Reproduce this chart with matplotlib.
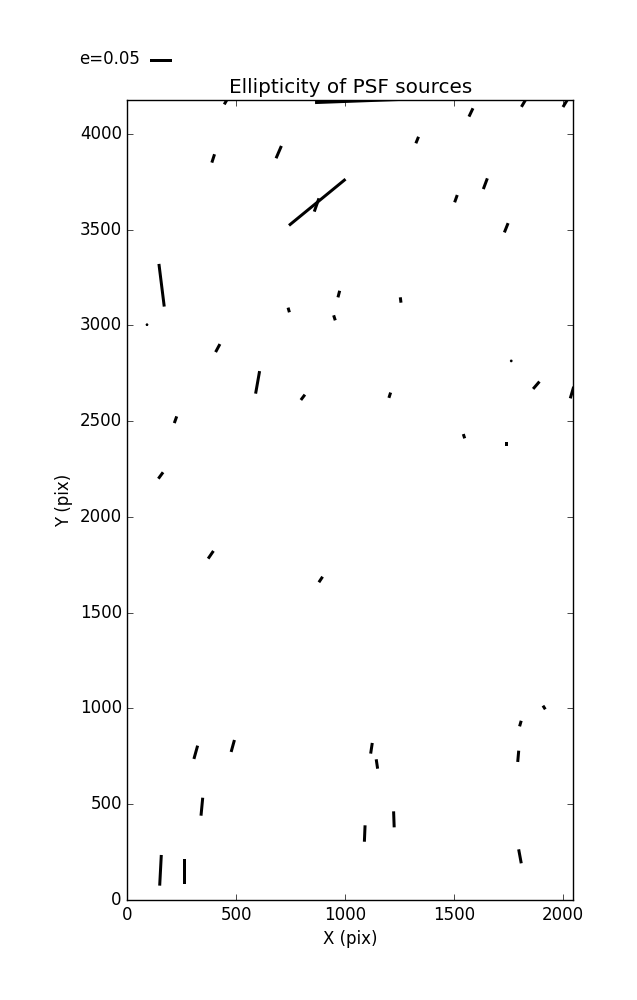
import numpy as np
import matplotlib
matplotlib.use("Agg")
import matplotlib.pyplot as plt

plt.style.use("classic")
plt.rcParams["figure.facecolor"] = "white"
plt.rcParams["savefig.facecolor"] = "white"
plt.rcParams["font.family"] = ["DejaVu Sans"]

# Source positions (pix)
x_pix = [455, 1183, 1578, 1819, 2010, 394, 695, 1331, 872, 869,
         1509, 1644, 1740, 157, 90, 415, 598, 741, 951, 971,
         1255, 806, 1205, 1763, 1878, 2042, 221, 1546, 1742, 153,
         383, 888, 314, 484, 342, 152, 260, 1121, 1146, 1090,
         1224, 1805, 1795, 1914, 1803]
y_pix = [4173, 4176, 4111, 4158, 4157, 3871, 3904, 3967, 3642, 3628,
         3661, 3739, 3509, 3209, 3003, 2881, 2702, 3080, 3039, 3163,
         3132, 2624, 2635, 2814, 2687, 2649, 2507, 2421, 2382, 2216,
         1802, 1673, 771, 804, 487, 155, 149, 792, 710, 347,
         421, 921, 750, 1005, 228]
# Ellipticity magnitude and position angle (deg)
ellip = [0.020, 0.318, 0.021, 0.018, 0.018, 0.020, 0.0305, 0.016, 0.166, 0.032,
         0.0176, 0.026, 0.0227, 0.0977, 0.002, 0.0207, 0.052, 0.011, 0.012, 0.0155,
         0.0123, 0.0152, 0.0127, 0.002, 0.022, 0.0275, 0.0162, 0.0102, 0.009, 0.018,
         0.0212, 0.0152, 0.0314, 0.0282, 0.041, 0.0698, 0.0552, 0.0245, 0.0216, 0.0373,
         0.0364, 0.0132, 0.0257, 0.0098, 0.0323]
angle_deg = [60, 2.1, 64.5, 59.5, 58.7, 72.2, 66.7, 67.8, 39.3, 70.7,
             70.4, 69.5, 68.3, 97.1, 0, 61.7, 80, 105.8, 107.7, 75.6,
             97.4, 53, 72.2, 0, 49.2, 73.7, 70.3, 108, 90, 53.7,
             55.5, 56.5, 74.5, 74.6, 84.6, 87, 90, 81.5, 98.5, 87.6,
             92.1, 74, 85, 122.6, 100.5]

x = np.array(x_pix, dtype=float)
y = np.array(y_pix, dtype=float)
e = np.array(ellip)
th = np.deg2rad(angle_deg)
u = e * np.cos(th)
v = e * np.sin(th)

fig = plt.figure(figsize=(6.37, 10), dpi=100)
ax = fig.add_axes([0.2, 0.1, 0.7, 0.8])

Q = ax.quiver(x, y, u, v, pivot="middle", headwidth=1, headlength=0,
              headaxislength=0, units="dots", width=3,
              scale_units="dots", scale=0.05 / 22.0, color="k")
ax.quiverkey(Q, 0.2355, 0.9405, 0.05, "e=0.05", labelpos="W",
             coordinates="figure", fontproperties={"size": 12})

ax.set_xlim(0, 2048)
ax.set_ylim(0, 4176)
ax.set_xticks([0, 500, 1000, 1500, 2000])
ax.set_yticks([0, 500, 1000, 1500, 2000, 2500, 3000, 3500, 4000])
ax.set_title("Ellipticity of PSF sources", fontsize=14.4)
ax.set_xlabel("X (pix)", fontsize=12)
ax.set_ylabel("Y (pix)", fontsize=12)

fig.savefig("out.png", dpi=100)
